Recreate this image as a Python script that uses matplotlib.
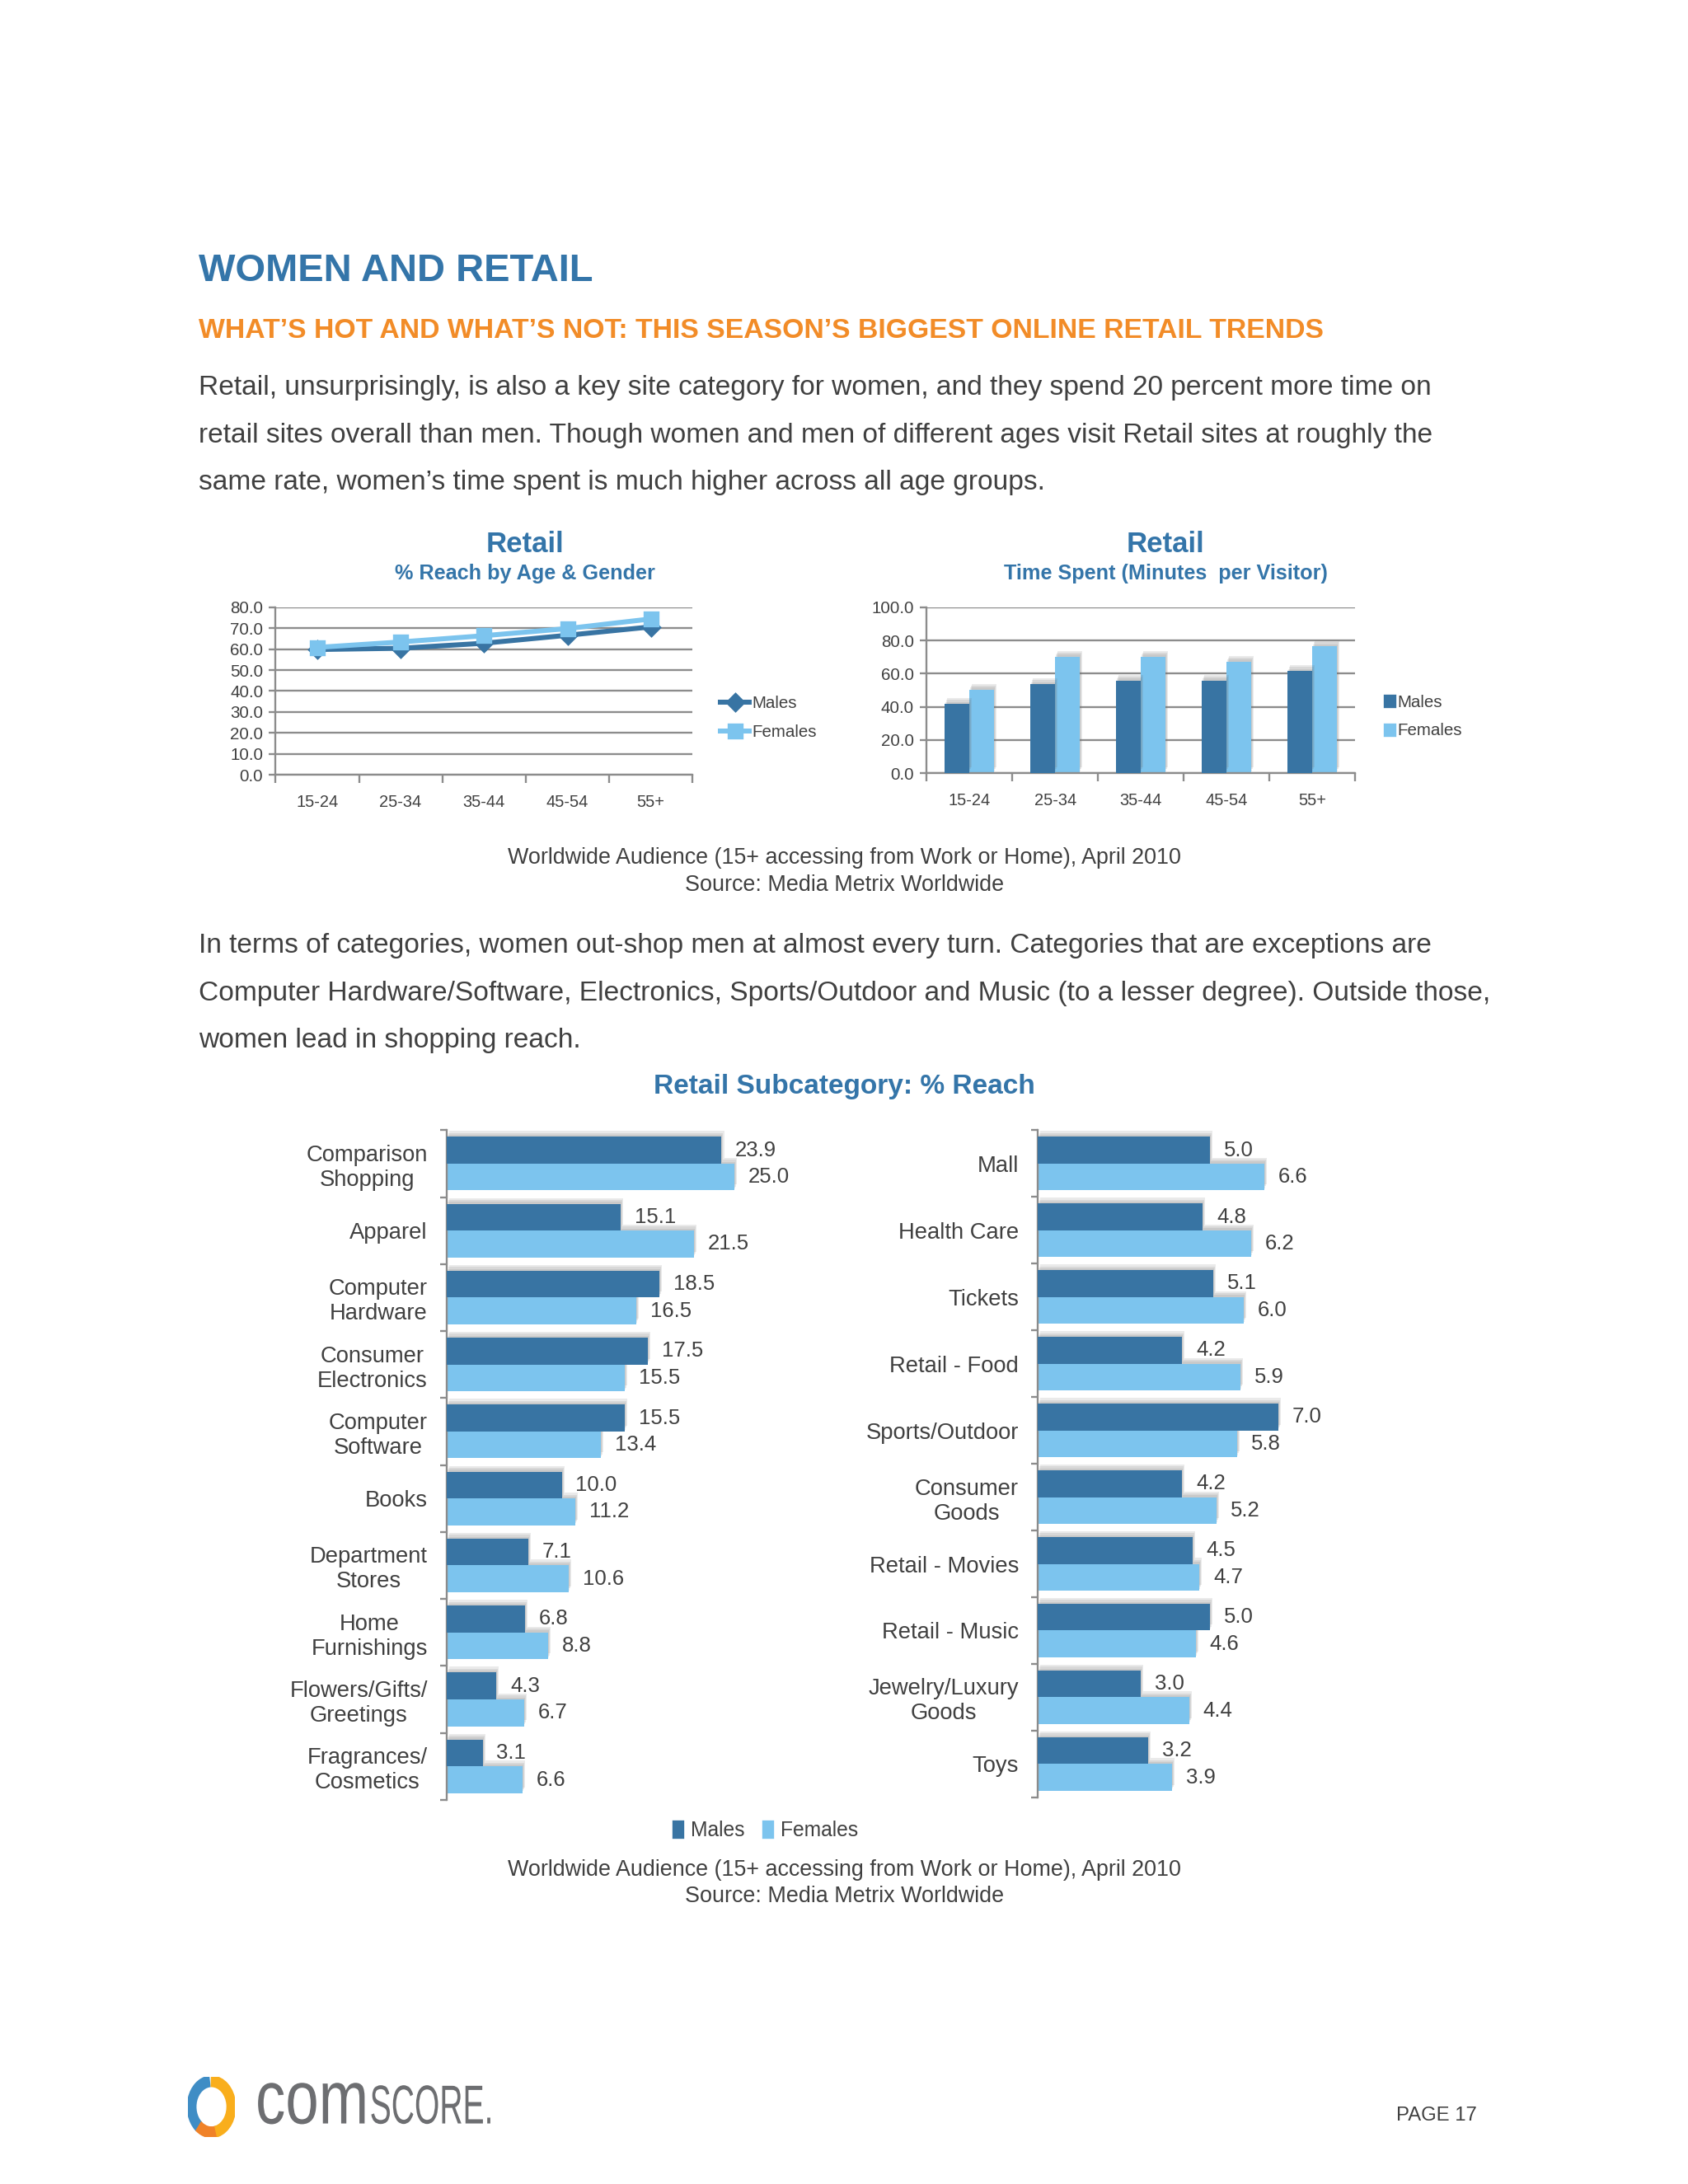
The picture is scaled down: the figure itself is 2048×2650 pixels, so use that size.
import numpy as np
import matplotlib
matplotlib.use("Agg")
import matplotlib.pyplot as plt
from matplotlib import font_manager
from matplotlib import patheffects as pe
from matplotlib.patches import Wedge, PathPatch, Patch
from matplotlib.textpath import TextPath
from matplotlib.font_manager import FontProperties
from matplotlib.transforms import Affine2D, IdentityTransform

# --- data -------------------------------------------------------------
ages = ["15-24", "25-34", "35-44", "45-54", "55+"]
reach_males = [59.8, 60.4, 62.8, 66.6, 70.6]
reach_females = [60.8, 63.4, 66.4, 69.8, 74.4]
time_males = [41.8, 53.6, 55.9, 55.8, 61.6]
time_females = [50.4, 70.3, 70.2, 67.2, 76.6]

left_cats = ["Comparison\nShopping", "Apparel", "Computer\nHardware", "Consumer\nElectronics",
             "Computer\nSoftware", "Books", "Department\nStores", "Home\nFurnishings",
             "Flowers/Gifts/\nGreetings", "Fragrances/\nCosmetics"]
left_males = [23.9, 15.1, 18.5, 17.5, 15.5, 10.0, 7.1, 6.8, 4.3, 3.1]
left_females = [25.0, 21.5, 16.5, 15.5, 13.4, 11.2, 10.6, 8.8, 6.7, 6.6]

right_cats = ["Mall", "Health Care", "Tickets", "Retail - Food", "Sports/Outdoor",
              "Consumer\nGoods", "Retail - Movies", "Retail - Music",
              "Jewelry/Luxury\nGoods", "Toys"]
right_males = [5.0, 4.8, 5.1, 4.2, 7.0, 4.2, 4.5, 5.0, 3.0, 3.2]
right_females = [6.6, 6.2, 6.0, 5.9, 5.8, 5.2, 4.7, 4.6, 4.4, 3.9]

para1 = ["Retail, unsurprisingly, is also a key site category for women, and they spend 20 percent more time on",
         "retail sites overall than men. Though women and men of different ages visit Retail sites at roughly the",
         "same rate, women\u2019s time spent is much higher across all age groups."]
para2 = ["In terms of categories, women out-shop men at almost every turn. Categories that are exceptions are",
         "Computer Hardware/Software, Electronics, Sports/Outdoor and Music (to a lesser degree). Outside those,",
         "women lead in shopping reach."]
caption = ["Worldwide Audience (15+ accessing from Work or Home), April 2010",
           "Source: Media Metrix Worldwide"]

# --- style ------------------------------------------------------------
MALE = "#3874A3"
FEMALE = "#7CC4EE"
BLUE = "#3475A9"
ORANGE = "#F28C28"
TXT = "#404040"
GRID = "#8C8C8C"

W, H = 2048, 2650
DPI = 241
SX, SY = 1.01, 1.012   # page coordinate correction

installed = {f.name for f in font_manager.fontManager.ttflist}
if "Liberation Sans Narrow" in installed:
    NARROW, nk = "Liberation Sans Narrow", 1.0
else:
    NARROW, nk = "Liberation Sans", 0.82
plt.rcParams["font.family"] = ["Liberation Sans", "DejaVu Sans"]

fig = plt.figure(figsize=(W / DPI, H / DPI), dpi=DPI)
fig.patch.set_facecolor("white")


def ax_at(x0, y0, x1, y1):
    x0, x1, y0, y1 = x0 * SX, x1 * SX, y0 * SY, y1 * SY
    return fig.add_axes([x0 / W, 1 - y1 / H, (x1 - x0) / W, (y1 - y0) / H])


def txt(x, y, s, **kw):
    kw.setdefault("va", "center")
    kw.setdefault("color", TXT)
    fig.text(x * SX / W, 1 - y * SY / H, s, **kw)


def narrow(size, weight="normal"):
    return FontProperties(family=NARROW, size=size * nk, weight=weight)


# --- page text --------------------------------------------------------
txt(239, 325, "WOMEN AND RETAIL", fontsize=14.1, fontweight="bold", color=BLUE)
txt(239, 397, "WHAT\u2019S HOT AND WHAT\u2019S NOT: THIS SEASON\u2019S BIGGEST ONLINE RETAIL TRENDS",
    fontsize=10.1, fontweight="bold", color=ORANGE)
for i, line in enumerate(para1):
    txt(239, 465 + 57 * i, line, fontsize=10)
for i, line in enumerate(para2):
    txt(239, 1134 + 57 * i, line, fontsize=10)
for i, line in enumerate(caption):
    txt(1014, 1029 + 32 * i, line, ha="center", fontproperties=narrow(9.8))
    txt(1014, 2242 + 32 * i, line, ha="center", fontproperties=narrow(9.8))

txt(631, 653, "Retail", ha="center", color=BLUE, fontproperties=narrow(12.7, "bold"))
txt(631, 688, "% Reach by Age & Gender", ha="center", color=BLUE, fontproperties=narrow(9.2, "bold"))
txt(1400, 653, "Retail", ha="center", color=BLUE, fontproperties=narrow(12.7, "bold"))
txt(1400, 688, "Time Spent (Minutes  per Visitor)", ha="center", color=BLUE,
    fontproperties=narrow(9.2, "bold"))
txt(1014, 1303, "Retail Subcategory: % Reach", ha="center", color=BLUE, fontsize=10, fontweight="bold")
txt(1774, 2537, "PAGE 17", ha="right", fontproperties=narrow(8.7))


def base_axes(ax):
    for s in ["top", "right"]:
        ax.spines[s].set_visible(False)
    for s in ["left", "bottom"]:
        ax.spines[s].set_color(GRID)
        ax.spines[s].set_linewidth(0.7)
    ax.set_facecolor("none")


def cat_xaxis(ax, labels):
    n = len(labels)
    ax.set_xlim(-0.5, n - 0.5)
    ax.set_xticks(np.arange(-0.5, n, 1))
    ax.set_xticklabels([])
    ax.set_xticks(np.arange(n), minor=True)
    ax.set_xticklabels(labels, minor=True, fontproperties=narrow(7.3), color=TXT)
    ax.tick_params(axis="x", which="major", length=3, color=GRID, width=0.7)
    ax.tick_params(axis="x", which="minor", length=0, pad=7)


# blurred shadow mostly above the bars
shadow = [pe.SimplePatchShadow(offset=(0.3 * k, 0.7 * k), shadow_rgbFace="#6e6e6e", alpha=0.14)
          for k in (3, 2, 1)] + [pe.Normal()]

# --- top left: line chart ---------------------------------------------
ax1 = ax_at(331, 728, 832, 929)
base_axes(ax1)
x = np.arange(len(ages))
ax1.plot(x, reach_males, color=MALE, lw=1.8, marker="D", ms=4.2, label="Males", zorder=3)
ax1.plot(x, reach_females, color=FEMALE, lw=1.8, marker="s", ms=4.8, label="Females", zorder=4)
ax1.set_ylim(0, 80)
ax1.set_yticks(np.arange(0, 81, 10))
ax1.set_yticklabels([f"{v:.1f}" for v in np.arange(0, 81, 10)], fontproperties=narrow(7.5), color=TXT)
ax1.tick_params(axis="y", length=2.5, color=GRID, width=0.7, pad=2)
ax1.grid(axis="y", color=GRID, lw=0.7)
ax1.set_axisbelow(True)
cat_xaxis(ax1, ages)
ax1.legend(loc="center left", bbox_to_anchor=(1.03, 0.34), frameon=False, prop=narrow(7.5),
           handlelength=1.7, labelspacing=0.75, handletextpad=0.15, labelcolor=TXT)

# --- top right: column chart --------------------------------------------
ax2 = ax_at(1113, 728, 1628, 927)
base_axes(ax2)
ax2.bar(x + 0.145, time_females, width=0.29, color=FEMALE, zorder=2, path_effects=shadow, label="Females")
ax2.bar(x - 0.145, time_males, width=0.29, color=MALE, zorder=3, path_effects=shadow, label="Males")
ax2.set_ylim(0, 100)
ax2.set_yticks(np.arange(0, 101, 20))
ax2.set_yticklabels([f"{v:.1f}" for v in np.arange(0, 101, 20)], fontproperties=narrow(7.5), color=TXT)
ax2.tick_params(axis="y", length=2.5, color=GRID, width=0.7, pad=2)
ax2.grid(axis="y", color=GRID, lw=0.7)
ax2.set_axisbelow(True)
cat_xaxis(ax2, ages)
sq = [Patch(color=MALE), Patch(color=FEMALE)]
ax2.legend(sq, ["Males", "Females"], loc="center left", bbox_to_anchor=(1.033, 0.34), frameon=False,
           prop=narrow(7.5), handlelength=0.6, handleheight=0.6, labelspacing=0.75,
           handletextpad=0.15, labelcolor=TXT)


# --- bottom: horizontal bars --------------------------------------------
def hbars(ax, cats, males, females, xmax):
    for s in ["top", "right", "bottom"]:
        ax.spines[s].set_visible(False)
    ax.spines["left"].set_color(GRID)
    ax.spines["left"].set_linewidth(0.7)
    ax.set_facecolor("none")
    y = np.arange(len(cats))
    ax.barh(y + 0.2, females, height=0.4, color=FEMALE, zorder=2, path_effects=shadow)
    ax.barh(y - 0.2, males, height=0.4, color=MALE, zorder=3, path_effects=shadow)
    for yi, m, f in zip(y, males, females):
        ax.annotate(f"{m:.1f}", (m, yi - 0.2), xytext=(5, 0), textcoords="offset points",
                    va="center", ha="left", fontproperties=narrow(9.4), color=TXT, annotation_clip=False)
        ax.annotate(f"{f:.1f}", (f, yi + 0.2), xytext=(5, 0), textcoords="offset points",
                    va="center", ha="left", fontproperties=narrow(9.4), color=TXT, annotation_clip=False)
    ax.set_xlim(0, xmax)
    ax.set_xticks([])
    ax.set_ylim(len(cats) - 0.5, -0.5)
    ax.set_yticks(np.arange(-0.5, len(cats), 1))
    ax.set_yticklabels([])
    ax.set_yticks(y, minor=True)
    ax.set_yticklabels(cats, minor=True, fontproperties=narrow(10), color=TXT, multialignment="center")
    ax.tick_params(axis="y", which="major", length=2.5, color=GRID, width=0.7)
    ax.tick_params(axis="y", which="minor", length=0, pad=7)


ax3 = ax_at(537, 1355, 951, 2158)
hbars(ax3, left_cats, left_males, left_females, 30)
ax4 = ax_at(1247, 1355, 1577, 2155)
hbars(ax4, right_cats, right_males, right_females, 8)

fig.legend(sq, ["Males", "Females"], loc="center", bbox_to_anchor=(920 * SX / W, 1 - 2195 * SY / H),
           ncol=2, frameon=False, prop=narrow(9), handlelength=0.45, handleheight=0.8,
           columnspacing=0.9, handletextpad=0.4, labelcolor=TXT)

# --- comScore logo ------------------------------------------------------
lax = ax_at(226, 2490, 282, 2562)
lax.set_xlim(-1, 1)
lax.set_ylim(-1, 1)
lax.axis("off")
lax.add_patch(Wedge((0, 0), 1, 98, 228, width=0.3, color="#3F8DC5"))
lax.add_patch(Wedge((0, 0), 1, 232, 282, width=0.3, color="#F08228"))
lax.add_patch(Wedge((0, 0), 1, -74, 88, width=0.3, color="#F9AE1C"))


def path_text(s, x, base, xh, width, ref_h):
    tp = TextPath((0, 0), s, size=100, prop=FontProperties(family="Liberation Sans"))
    ext = tp.get_extents()
    sy = xh * SY / ref_h
    sx = width * SX / ext.width
    tr = Affine2D().translate(-ext.x0, 0).scale(sx, sy).translate(x * SX, H - base * SY)
    fig.add_artist(PathPatch(tr.transform_path(tp), fc="#6D6E71", ec="none",
                             transform=IdentityTransform()))


path_text("com", 310, 2546, 47, 128, 51.9)
path_text("SCORE.", 446, 2546, 47, 143, 71.6)

fig.savefig("out.png", dpi=DPI)
